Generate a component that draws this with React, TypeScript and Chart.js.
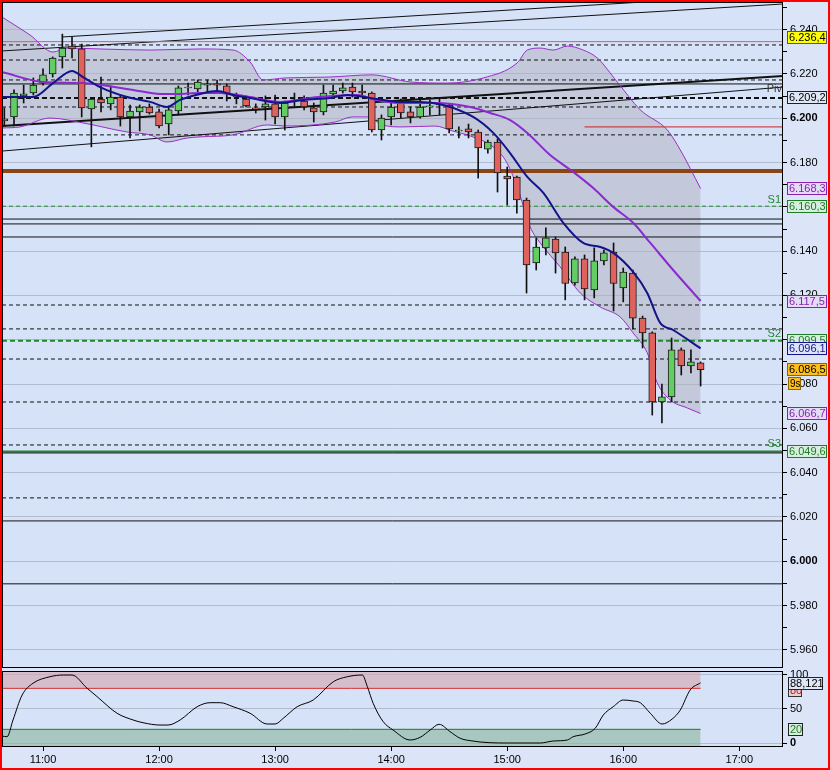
import React, { useEffect, useRef } from "react";
import { Chart, registerables } from "chart.js";

Chart.register(...registerables);

// ---------------- data ----------------
// candles: 5-minute bars starting 10:40 (minutes since midnight)
const FIRST_CANDLE_MIN = 640;
const CANDLE_STEP_MIN = 5;

const opens = [
  6.1997, 6.2006, 6.2101, 6.2114, 6.2159, 6.2200, 6.2277, 6.2326, 6.2313, 6.2042,
  6.2087, 6.2065, 6.2096, 6.2006, 6.2029, 6.2051, 6.2029, 6.1974, 6.2033, 6.2137,
  6.2132, 6.2150, 6.2155, 6.2146, 6.2101, 6.2087, 6.2047, 6.2051, 6.2065, 6.2006,
  6.2083, 6.2078, 6.2047, 6.2029, 6.2110, 6.2123, 6.2141, 6.2123, 6.2114, 6.1947,
  6.2006, 6.2069, 6.2029, 6.2006, 6.2051, 6.2065, 6.2060, 6.1943, 6.1952, 6.1938,
  6.1861, 6.1893, 6.1739, 6.1735, 6.1631, 6.1347, 6.1415, 6.1455, 6.1396, 6.1257,
  6.1365, 6.1225, 6.1356, 6.1396, 6.1234, 6.1301, 6.1098, 6.1031, 6.0719, 6.0742,
  6.0954, 6.0882, 6.0896,
];
const highs = [
  6.2047, 6.2128, 6.2150, 6.2182, 6.2223, 6.2277, 6.2380, 6.2367, 6.2335, 6.2090,
  6.2186, 6.2146, 6.2105, 6.2060, 6.2060, 6.2065, 6.2042, 6.2056, 6.2146, 6.2159,
  6.2173, 6.2173, 6.2173, 6.2155, 6.2114, 6.2101, 6.2065, 6.2101, 6.2105, 6.2078,
  6.2114, 6.2101, 6.2069, 6.2150, 6.2150, 6.2159, 6.2159, 6.2150, 6.2119, 6.2015,
  6.2069, 6.2087, 6.2051, 6.2092, 6.2083, 6.2092, 6.2065, 6.1961, 6.1974, 6.1947,
  6.1902, 6.1907, 6.1780, 6.1739, 6.1640, 6.1460, 6.1505, 6.1464, 6.1419, 6.1374,
  6.1383, 6.1415, 6.1405, 6.1437, 6.1324, 6.1315, 6.1107, 6.1036, 6.0800, 6.1008,
  6.0963, 6.0954, 6.0900,
];
const lows = [
  6.1965, 6.1965, 6.2069, 6.2105, 6.2150, 6.2186, 6.2227, 6.2272, 6.2006, 6.1871,
  6.2029, 6.2038, 6.1965, 6.1911, 6.1943, 6.2019, 6.1956, 6.1925, 6.2015, 6.2105,
  6.2119, 6.2119, 6.2119, 6.2078, 6.2065, 6.2051, 6.2024, 6.1992, 6.1974, 6.1947,
  6.2051, 6.2038, 6.1983, 6.2015, 6.2101, 6.2114, 6.2096, 6.2096, 6.1938, 6.1902,
  6.1970, 6.2001, 6.1979, 6.2001, 6.2015, 6.2015, 6.1934, 6.1911, 6.1911, 6.1730,
  6.1843, 6.1667, 6.1608, 6.1572, 6.1211, 6.1315, 6.1383, 6.1301, 6.1180, 6.1247,
  6.1180, 6.1189, 6.1338, 6.1130, 6.1171, 6.1049, 6.0963, 6.0660, 6.0624, 6.0719,
  6.0841, 6.0850, 6.0791,
];
const closes = [
  6.1988, 6.2114, 6.2110, 6.2150, 6.2196, 6.2272, 6.2317, 6.2313, 6.2047, 6.2087,
  6.2069, 6.2096, 6.2006, 6.2033, 6.2051, 6.2024, 6.1965, 6.2038, 6.2137, 6.2141,
  6.2164, 6.2155, 6.2150, 6.2110, 6.2096, 6.2056, 6.2042, 6.2065, 6.2006, 6.2069,
  6.2080, 6.2051, 6.2029, 6.2114, 6.2123, 6.2137, 6.2119, 6.2114, 6.1947, 6.2001,
  6.2051, 6.2024, 6.2006, 6.2051, 6.2056, 6.2060, 6.1952, 6.1947, 6.1938, 6.1866,
  6.1893, 6.1753, 6.1726, 6.1631, 6.1338, 6.1419, 6.1460, 6.1392, 6.1254, 6.1365,
  6.1230, 6.1356, 6.1392, 6.1254, 6.1306, 6.1098, 6.1031, 6.0719, 6.0742, 6.0954,
  6.0882, 6.0900, 6.0865,
];

// Bollinger bands and moving averages (time in minutes since midnight)
const upperBandTimes = [638.8, 653.3, 665.2, 672.4, 689.5, 715.4, 741.2, 758.3, 767.1, 773.8, 785.2, 807.4, 830.2, 849.8, 869.0, 887.6, 905.2, 910.4, 917.1, 923.8, 931.1, 939.3, 946.6, 956.9, 968.8, 982.8, 989.5, 1000];
const upperBandValues = [6.2457, 6.2376, 6.2299, 6.2317, 6.2313, 6.2308, 6.2313, 6.2308, 6.2254, 6.2173, 6.2182, 6.2186, 6.2196, 6.2164, 6.2159, 6.2182, 6.2250, 6.2308, 6.2317, 6.2308, 6.2326, 6.2308, 6.2272, 6.2164, 6.2038, 6.1947, 6.1857, 6.1683];

const middleBandTimes = [638.8, 660.0, 680.7, 706.6, 720.5, 729.3, 741.2, 751.6, 767.1, 782.6, 802.2, 822.9, 831.7, 843.6, 862.7, 880.9, 891.2, 901.5, 910.4, 922.2, 934.1, 944.5, 954.8, 965.1, 974.0, 985.8, 1000];
const middleBandValues = [6.2209, 6.2164, 6.2159, 6.2128, 6.2110, 6.2110, 6.2114, 6.2114, 6.2096, 6.2074, 6.2096, 6.2105, 6.2083, 6.2069, 6.2069, 6.2051, 6.2024, 6.1992, 6.1934, 6.1834, 6.1758, 6.1685, 6.1600, 6.1528, 6.1437, 6.1315, 6.1175];

const lowerBandTimes = [638.8, 648.1, 663.6, 680.7, 703.5, 715.4, 724.1, 734.5, 741.2, 758.3, 775.9, 785.2, 811.1, 819.8, 828.1, 835.4, 845.7, 862.7, 871.6, 880.9, 891.2, 899.0, 905.2, 911.9, 917.1, 927.4, 937.8, 948.1, 958.4, 965.1, 972.4, 977.6, 984.3, 993.1, 1000];
const lowerBandValues = [6.1956, 6.1961, 6.2001, 6.1979, 6.1938, 6.1925, 6.1893, 6.1911, 6.1916, 6.1925, 6.1970, 6.1965, 6.1983, 6.2006, 6.2006, 6.1970, 6.1961, 6.1965, 6.1943, 6.1920, 6.1880, 6.1812, 6.1690, 6.1509, 6.1437, 6.1329, 6.1211, 6.1148, 6.1103, 6.1031, 6.0941, 6.0805, 6.0728, 6.0692, 6.0667];

const fastMaTimes = [638.8, 654.8, 665.2, 675.0, 680.7, 689.5, 703.5, 715.4, 724.1, 730.9, 741.2, 750.0, 758.3, 767.1, 782.6, 794.5, 808.5, 817.3, 829.1, 844.7, 855.0, 866.9, 882.4, 892.8, 901.5, 910.4, 918.7, 929.0, 939.3, 948.1, 954.8, 965.1, 972.4, 979.1, 985.8, 1000];
const fastMaValues = [6.2096, 6.2096, 6.2159, 6.2214, 6.2186, 6.2141, 6.2096, 6.2074, 6.2051, 6.2083, 6.2110, 6.2123, 6.2105, 6.2092, 6.2069, 6.2083, 6.2092, 6.2105, 6.2092, 6.2074, 6.2074, 6.2060, 6.2006, 6.1934, 6.1843, 6.1735, 6.1663, 6.1528, 6.1437, 6.1419, 6.1392, 6.1306, 6.1211, 6.1076, 6.1044, 6.0961];

// stochastic oscillator
const stochTimes = [638.8, 641.4, 644.5, 649.2, 654.8, 663.6, 670.4, 675.0, 682.8, 688.0, 698.3, 706.6, 711.7, 720.5, 724.6, 730.9, 739.7, 746.4, 751.6, 758.3, 767.1, 775.9, 780.0, 784.2, 791.4, 799.7, 810.1, 817.3, 825.1, 827.7, 830.7, 835.9, 841.0, 849.8, 855.0, 860.2, 864.8, 870.5, 875.7, 880.9, 891.2, 900.0, 917.1, 923.8, 931.1, 934.1, 940.3, 945.5, 949.7, 954.8, 960.0, 965.1, 968.8, 974.0, 980.1, 985.3, 989.5, 994.6, 1000];
const stochValues = [10.2, 9.2, 33.7, 70.2, 87.4, 97.0, 99.5, 99.5, 80.1, 67.8, 43.5, 33.7, 29.7, 26.3, 26.3, 33.7, 53.1, 59.0, 59.0, 53.1, 43.5, 27.8, 27.8, 36.1, 53.1, 62.9, 89.7, 97.0, 99.5, 82.4, 58.1, 31.2, 19.0, 4.4, 8.3, 19.0, 27.4, 16.5, 6.9, 3.4, 0.4, 0, 0, 2.9, 4.4, 9.2, 13.2, 21.5, 41.0, 53.1, 62.9, 61.5, 59.0, 43.5, 27.8, 35.1, 48.3, 77.6, 88.121];
const stochOverbought = 80;
const stochOversold = 20;

// horizontal levels
const dayHigh = 6.2364;
const pivot = 6.2092;
const support1 = 6.1603;
const support2 = 6.0995;
const support3 = 6.0496;
const dashedLevels = [6.2331, 6.2263, 6.2173, 6.2051, 6.1925, 6.1157, 6.1049, 6.0913, 6.0719, 6.0525, 6.0286];
const solidLevels = [6.2155, 6.1545, 6.1523, 6.1464, 6.0489, 6.0182, 5.9898];
const redLevel = 6.2346;
const redLevelLate = 6.1961;
const redLevelLateStart = 940;
const brownLevel = 6.1762;

// trend lines: [startTime, startValue, endTime, endValue]
const trendLineA = [669.8, 6.2367, 1042.6, 6.2563];
const trendLineB = [638.8, 6.2304, 1042.6, 6.2516];
const trendLineThick = [638.8, 6.1965, 1042.6, 6.2191];
const trendLineLow = [638.8, 6.1852, 1042.6, 6.2141];

const hourTicks = [660, 720, 780, 840, 900, 960, 1020];
const countdownText = "9s";

// ---------------- styling ----------------
const X_MIN = 638.8;
const X_MAX = 1042.6;
const Y_MIN = 5.9518;
const Y_MAX = 6.2525;
const OSC_MIN = -5.85;
const OSC_MAX = 105.4;

const PLOT_BG = "#d6e2f8";
const OUTER_BG = "#dce5f7";
const GRID = "#b3bccf";
const FONT = '"Liberation Sans", Arial, sans-serif';
const PURPLE = "#9b2fc9";
const GREEN_LINE = "#1f8a2a";
const UP = "#62cd62";
const DOWN = "#e0625c";

const pts = (ts: number[], vs: number[]) => ts.map((t, i) => ({ x: t, y: vs[i] }));
const fmtTag = (v: number) => v.toFixed(4).replace(/(\d)$/, ",$1");

const level = (v: number, color: string, width: number, dash: number[] = [], from = X_MIN, to = X_MAX) => ({
  type: "line" as const,
  data: [{ x: from, y: v }, { x: to, y: v }],
  borderColor: color,
  borderWidth: width,
  borderDash: dash,
  pointRadius: 0,
  fill: false,
  tension: 0,
  order: 8,
});
const seg = (l: number[], color: string, width: number) => ({
  type: "line" as const,
  data: [{ x: l[0], y: l[1] }, { x: l[2], y: l[3] }],
  borderColor: color,
  borderWidth: width,
  pointRadius: 0,
  fill: false,
  tension: 0,
  order: 8,
});

function drawTag(ctx: CanvasRenderingContext2D, x: number, yc: number, text: string, bg: string, fg: string, border: string, w?: number, font = `11px ${FONT}`) {
  ctx.save();
  ctx.font = font;
  const tw = ctx.measureText(text).width;
  const bw = w ?? Math.round(tw) + 4;
  const h = 13;
  const top = Math.round(yc - h / 2);
  ctx.fillStyle = bg;
  ctx.fillRect(x, top, bw, h);
  ctx.strokeStyle = border;
  ctx.lineWidth = 1;
  ctx.strokeRect(x + 0.5, top + 0.5, bw - 1, h - 1);
  ctx.fillStyle = fg;
  ctx.textAlign = "left";
  ctx.textBaseline = "middle";
  ctx.fillText(text, x + 2, top + h / 2 + 0.5);
  ctx.restore();
}

const noPad = (s: any) => {
  s.paddingTop = 0;
  s.paddingBottom = 0;
  s.paddingLeft = 0;
  s.paddingRight = 0;
};

const panelPlugin = {
  id: "panel",
  beforeDraw(chart: any) {
    const { ctx, chartArea: a } = chart;
    ctx.save();
    ctx.fillStyle = PLOT_BG;
    ctx.fillRect(a.left, a.top, a.right - a.left, a.bottom - a.top);
    ctx.restore();
  },
  afterDatasetsDraw(chart: any) {
    const { ctx, chartArea: a } = chart;
    ctx.save();
    ctx.strokeStyle = "#000";
    ctx.lineWidth = 1;
    ctx.strokeRect(Math.round(a.left) + 0.5, Math.round(a.top) + 0.5, Math.round(a.right - a.left) - 1, Math.round(a.bottom - a.top) - 1);
    ctx.restore();
  },
};

const mainTagsPlugin = {
  id: "mainTags",
  afterDatasetsDraw(chart: any) {
    const { ctx, chartArea: a } = chart;
    const y = chart.scales.y;
    ctx.save();
    ctx.font = `11px ${FONT}`;
    ctx.textAlign = "right";
    ctx.textBaseline = "bottom";
    ctx.fillStyle = "#333";
    ctx.fillText("Piv", a.right - 1, y.getPixelForValue(pivot) - 3);
    ctx.fillStyle = GREEN_LINE;
    ctx.fillText("S1", a.right - 2, y.getPixelForValue(support1) - 1);
    ctx.fillText("S2", a.right - 2, y.getPixelForValue(support2) - 1);
    ctx.fillText("S3", a.right - 2, y.getPixelForValue(support3) - 2);
    ctx.restore();
  },
  afterDraw(chart: any) {
    const { ctx } = chart;
    const y = chart.scales.y;
    const X = 787;
    const W = 40;
    const P = (v: number) => y.getPixelForValue(v);
    const lastClose = closes[closes.length - 1];
    drawTag(ctx, X, P(dayHigh), fmtTag(dayHigh), "#ffff00", "#000", "#555", W);
    drawTag(ctx, X, P(pivot), fmtTag(pivot), "#dfe7f7", "#000", "#222", W);
    const ub = upperBandValues[upperBandValues.length - 1];
    drawTag(ctx, X, P(ub), fmtTag(ub), "#e3dcf5", "#8a1fb0", "#8a1fb0", W);
    drawTag(ctx, X, P(support1), fmtTag(support1), "#d6eedc", "#1f7a2a", "#1f7a2a", W);
    const mb = middleBandValues[middleBandValues.length - 1];
    drawTag(ctx, X, P(mb), fmtTag(mb), "#e3dcf5", "#8a1fb0", "#8a1fb0", W);
    drawTag(ctx, X, P(support2), fmtTag(support2), "#d6eedc", "#1f7a2a", "#1f7a2a", W);
    const fm = fastMaValues[fastMaValues.length - 1];
    drawTag(ctx, X, P(fm), fmtTag(fm), "#dbe4f8", "#14148a", "#14148a", W);
    drawTag(ctx, X, P(lastClose), fmtTag(lastClose), "#ffbf1a", "#000", "#8a6a00", W);
    drawTag(ctx, X + 1, P(lastClose) + 14, countdownText, "#ffbf1a", "#000", "#8a6a00", 13, `10px ${FONT}`);
    const lb = lowerBandValues[lowerBandValues.length - 1];
    drawTag(ctx, X, P(lb), fmtTag(lb), "#e3dcf5", "#8a1fb0", "#8a1fb0", W);
    drawTag(ctx, X, P(support3), fmtTag(support3), "#d6eedc", "#1f7a2a", "#1f7a2a", W);
  },
};

const oscTagsPlugin = {
  id: "oscTags",
  afterDraw(chart: any) {
    const { ctx } = chart;
    const y = chart.scales.y;
    const X = 788;
    drawTag(ctx, X, y.getPixelForValue(stochOverbought) + 2, String(stochOverbought), "#e8cfd6", "#c02020", "#333", 14);
    drawTag(ctx, X, y.getPixelForValue(stochValues[stochValues.length - 1]) + 1, stochValues[stochValues.length - 1].toFixed(3).replace(".", ","), "#dfe7f7", "#000", "#222", 35);
    drawTag(ctx, X, y.getPixelForValue(stochOversold), String(stochOversold), "#d6eedc", "#1f7a2a", "#222", 15);
  },
};

function mainConfig(): any {
  const times = opens.map((_, i) => FIRST_CANDLE_MIN + i * CANDLE_STEP_MIN);
  const wickData = times.map((t, i) => ({ x: t, y: [lows[i], highs[i]] }));
  const bodyData = times.map((t, i) => {
    let lo = Math.min(opens[i], closes[i]);
    let hi = Math.max(opens[i], closes[i]);
    if (hi - lo < 0.00045) {
      const m = (hi + lo) / 2;
      lo = m - 0.000225;
      hi = m + 0.000225;
    }
    return { x: t, y: [lo, hi] };
  });
  const bodyColors = times.map((_, i) => (closes[i] >= opens[i] ? UP : DOWN));

  const datasets: any[] = [
    {
      type: "line",
      data: pts(upperBandTimes, upperBandValues),
      borderColor: PURPLE,
      borderWidth: 1,
      pointRadius: 0,
      cubicInterpolationMode: "monotone",
      fill: "+1",
      backgroundColor: "rgba(176,176,188,0.5)",
      order: 5,
    },
    {
      type: "line",
      data: pts(lowerBandTimes, lowerBandValues),
      borderColor: PURPLE,
      borderWidth: 1,
      pointRadius: 0,
      cubicInterpolationMode: "monotone",
      fill: false,
      order: 5,
    },
    ...dashedLevels.map((v) => level(v, "#111", 1, [4, 3])),
    ...solidLevels.map((v) => level(v, "#111", 1)),
    level(redLevel, "#e05a5a", 1),
    level(redLevelLate, "#d02020", 1, [], redLevelLateStart, X_MAX),
    level(brownLevel, "#8b4513", 4),
    level(pivot, "#111", 2, [5, 3]),
    level(support1, GREEN_LINE, 1, [4, 3]),
    level(support2, GREEN_LINE, 2, [5, 3]),
    level(support3, GREEN_LINE, 2),
    seg(trendLineA, "#111", 1),
    seg(trendLineB, "#111", 1),
    seg(trendLineThick, "#111", 2),
    seg(trendLineLow, "#111", 1),
    {
      type: "bar",
      data: wickData,
      backgroundColor: "#111",
      borderWidth: 0,
      barThickness: 1,
      grouped: false,
      order: 3,
    },
    {
      type: "bar",
      data: bodyData,
      backgroundColor: bodyColors,
      borderColor: "#1a1a1a",
      borderWidth: 1,
      borderSkipped: false,
      barThickness: 7,
      grouped: false,
      order: 2,
    },
    {
      type: "line",
      data: pts(middleBandTimes, middleBandValues),
      borderColor: "#8a2ad0",
      borderWidth: 2,
      pointRadius: 0,
      cubicInterpolationMode: "monotone",
      fill: false,
      order: 1,
    },
    {
      type: "line",
      data: pts(fastMaTimes, fastMaValues),
      borderColor: "#14148a",
      borderWidth: 2,
      pointRadius: 0,
      cubicInterpolationMode: "monotone",
      fill: false,
      order: 0,
    },
  ];

  const yTicks: { value: number }[] = [];
  for (let k = 596; k <= 625; k++) yTicks.push({ value: k / 100 });
  const isMajor = (v: number) => Math.round(v * 100) % 2 === 0;

  return {
    type: "line",
    data: { datasets },
    plugins: [panelPlugin, mainTagsPlugin],
    options: {
      animation: false,
      responsive: false,
      events: [],
      layout: { padding: { left: 2, top: 2, right: 2, bottom: 2 } },
      plugins: {
        legend: { display: false },
        tooltip: { enabled: false },
        filler: { drawTime: "beforeDatasetsDraw" },
      },
      scales: {
        x: { type: "linear", min: X_MIN, max: X_MAX, display: false, offset: false, bounds: "data" },
        y: {
          type: "linear",
          position: "right",
          min: Y_MIN,
          max: Y_MAX,
          bounds: "data",
          afterFit: (s: any) => { s.width = 45; noPad(s); },
          afterBuildTicks: (s: any) => { s.ticks = yTicks.map((t) => ({ ...t })); },
          border: { display: false },
          grid: {
            color: (c: any) => (c.tick && isMajor(c.tick.value) ? GRID : "rgba(0,0,0,0)"),
            tickColor: "#000",
            tickLength: 4,
            lineWidth: 1,
          },
          ticks: {
            autoSkip: false,
            padding: 3,
            color: "#000",
            font: (c: any) => ({
              family: FONT,
              size: 11,
              weight: c.tick && Math.round(c.tick.value * 100) % 10 === 0 ? "bold" : "normal",
            }),
            callback: (v: number) => (isMajor(v) && v <= 6.245 ? Number(v).toFixed(3) : ""),
          },
        },
      },
    },
  };
}

function oscConfig(): any {
  const zoneEnd = stochTimes[stochTimes.length - 1];
  return {
    type: "line",
    data: {
      datasets: [
        {
          data: [{ x: X_MIN, y: stochOverbought }, { x: zoneEnd, y: stochOverbought }],
          borderColor: "#d83030",
          borderWidth: 1,
          pointRadius: 0,
          fill: "end",
          backgroundColor: "rgba(214,166,176,0.62)",
          order: 3,
        },
        {
          data: [{ x: X_MIN, y: stochOversold }, { x: zoneEnd, y: stochOversold }],
          borderColor: "#1f7a2a",
          borderWidth: 1,
          pointRadius: 0,
          fill: "start",
          backgroundColor: "rgba(140,182,160,0.62)",
          order: 3,
        },
        {
          data: pts(stochTimes, stochValues),
          borderColor: "#000",
          borderWidth: 1,
          pointRadius: 0,
          cubicInterpolationMode: "monotone",
          fill: false,
          order: 0,
        },
      ],
    },
    plugins: [panelPlugin, oscTagsPlugin],
    options: {
      animation: false,
      responsive: false,
      events: [],
      layout: { padding: { left: 2, top: 3, right: 2, bottom: 2 } },
      plugins: { legend: { display: false }, tooltip: { enabled: false } },
      scales: {
        x: {
          type: "linear",
          min: X_MIN,
          max: X_MAX,
          offset: false,
          bounds: "data",
          afterFit: (s: any) => { s.height = 21; noPad(s); },
          afterBuildTicks: (s: any) => { s.ticks = hourTicks.map((v) => ({ value: v })); },
          border: { display: false },
          grid: { drawOnChartArea: false, tickColor: "#000", tickLength: 4 },
          ticks: {
            autoSkip: false,
            maxRotation: 0,
            padding: 2,
            color: "#000",
            font: { family: FONT, size: 11 },
            callback: (v: number) => `${Math.floor(v / 60)}:00`,
          },
        },
        y: {
          type: "linear",
          position: "right",
          min: OSC_MIN,
          max: OSC_MAX,
          bounds: "data",
          afterFit: (s: any) => { s.width = 45; noPad(s); },
          afterBuildTicks: (s: any) => { s.ticks = [0, 50, 100].map((v) => ({ value: v })); },
          border: { display: false },
          grid: { color: GRID, tickColor: "#000", tickLength: 4 },
          ticks: {
            autoSkip: false,
            padding: 3,
            color: "#000",
            font: (c: any) => ({ family: FONT, size: 11, weight: c.tick && c.tick.value === 0 ? "bold" : "normal" }),
            callback: (v: number) => String(v),
          },
        },
      },
    },
  };
}

export default function App() {
  const mainRef = useRef<HTMLCanvasElement>(null);
  const oscRef = useRef<HTMLCanvasElement>(null);
  useEffect(() => {
    const c1 = new Chart(mainRef.current as HTMLCanvasElement, mainConfig());
    const c2 = new Chart(oscRef.current as HTMLCanvasElement, oscConfig());
    return () => {
      c1.destroy();
      c2.destroy();
    };
  }, []);
  return (
    <div style={{ position: "absolute", left: 0, top: 0, width: 830, height: 770, background: OUTER_BG, overflow: "hidden" }}>
      <canvas ref={mainRef} width={830} height={670} style={{ position: "absolute", left: 0, top: 0, width: 830, height: 670 }} />
      <canvas ref={oscRef} width={830} height={102} style={{ position: "absolute", left: 0, top: 668, width: 830, height: 102 }} />
      <div style={{ position: "absolute", left: 0, top: 0, width: 830, height: 770, boxSizing: "border-box", border: "2px solid #ff0000", pointerEvents: "none" }} />
    </div>
  );
}
